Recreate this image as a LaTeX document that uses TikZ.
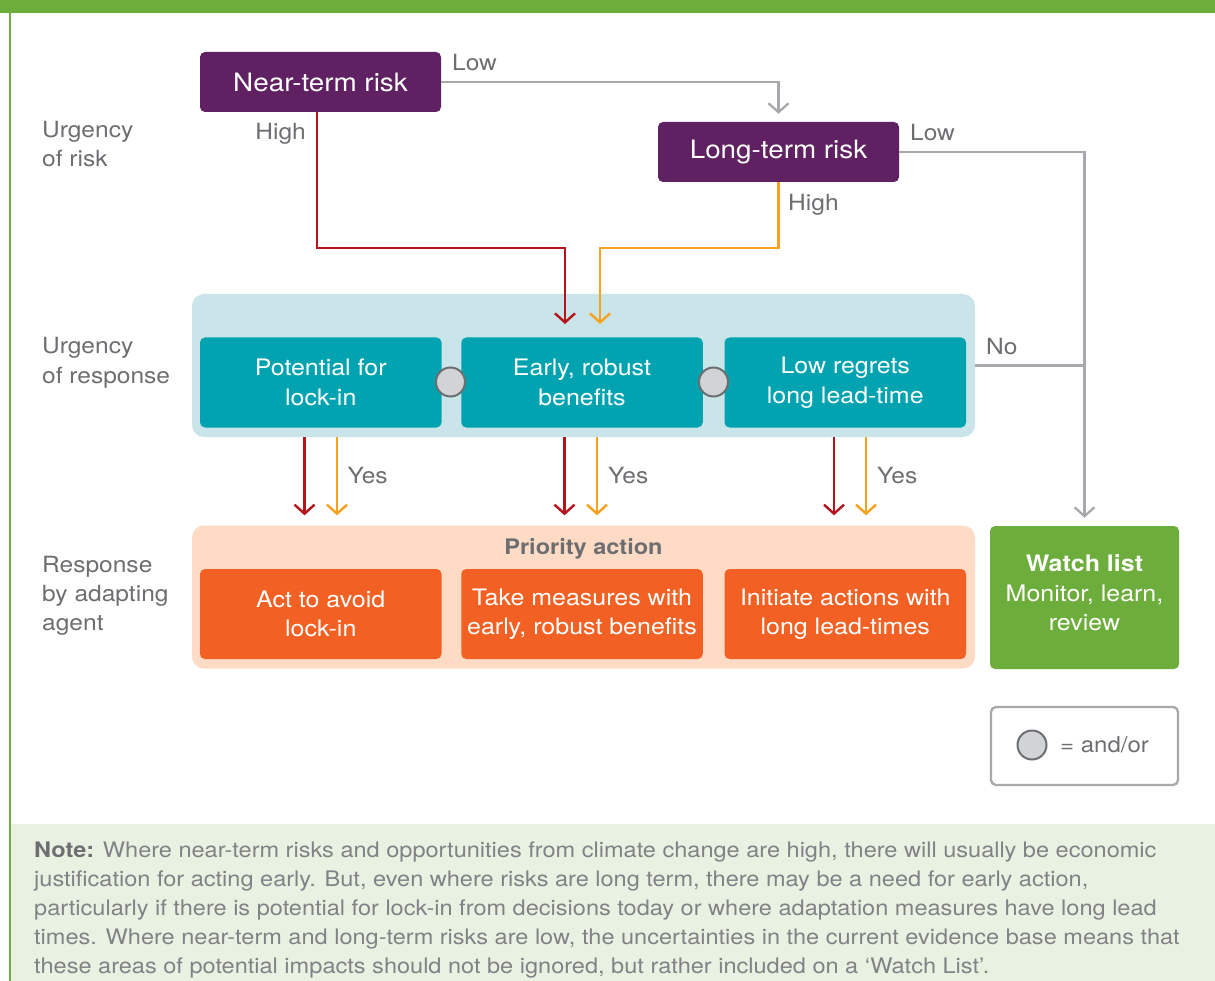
\documentclass[tikz,border=0pt]{standalone}
\usepackage{fontspec}
\setmainfont{TeX Gyre Heros}[FakeStretch=1.1]
\usetikzlibrary{arrows.meta}
\definecolor{cPurple}{HTML}{5F2162}
\definecolor{cTeal}{HTML}{00A3AF}
\definecolor{cLBlue}{HTML}{CAE5EA}
\definecolor{cPeach}{HTML}{FEDBC5}
\definecolor{cOrange}{HTML}{F26123}
\definecolor{cGreen}{HTML}{6DAD3B}
\definecolor{cRed}{HTML}{B5141D}
\definecolor{cAmber}{HTML}{F8A11D}
\definecolor{cLine}{HTML}{A7A9AC}
\definecolor{cText}{HTML}{6D6E71}
\definecolor{cNoteTxt}{HTML}{808285}
\definecolor{cNoteBg}{HTML}{E9F1E2}
\definecolor{cCircle}{HTML}{D1D3D4}
\begin{document}
\begin{tikzpicture}[x=1pt,y=-1pt,
  riskbox/.style={fill=cPurple, rounded corners=5pt, minimum width=241pt, minimum height=60pt, inner sep=0pt, text=white, font=\fontsize{25.3}{30}\selectfont},
  respbox/.style={fill=cTeal, rounded corners=5pt, minimum width=241.5pt, minimum height=90pt, inner sep=0pt, text=white, align=center, font=\fontsize{22.7}{29.5}\selectfont},
  actbox/.style={fill=cOrange, rounded corners=5pt, minimum width=241.5pt, minimum height=90pt, inner sep=0pt, text=white, align=center, font=\fontsize{22.7}{29}\selectfont},
  panel/.style={rounded corners=12pt, minimum width=783pt, minimum height=143pt, inner sep=0pt},
  andor/.style={circle, fill=cCircle, draw=cText, line width=2pt, minimum size=29pt, inner sep=0pt},
  lbl/.style={text=cText, inner sep=0pt, anchor=base west, font=\fontsize{22.3}{27}\selectfont},
  notetxt/.style={text=cNoteTxt, inner sep=0pt, anchor=base west, font=\fontsize{21.4}{29}\selectfont},
  grline/.style={draw=cLine, line width=2.3pt},
  redline/.style={draw=cRed, line width=2.4pt},
  ambline/.style={draw=cAmber, line width=2.4pt},
  arr/.style={-{Straight Barb[length=9pt,width=20pt]}}
]
\useasboundingbox (0,0) rectangle (1215,981);
\fill[white] (0,0) rectangle (1215,981);
% frame
\fill[cGreen] (0,0) rectangle (1215,13.5);
\fill[cNoteBg] (11,824) rectangle (1215,981);
\draw[cGreen, line width=1.5pt] (10,13) -- (10,981);

% panels
\node[panel, fill=cLBlue] (respanel) at (583.5,365.5) {};
\node[panel, fill=cPeach] (actpanel) at (583.5,597) {};

% risk boxes
\node[riskbox] (near) at (320.5,82) {Near-term risk};
\node[riskbox] (long) at (778.5,152) {Long-term risk};

% response boxes
\node[respbox] (r1) at (320.75,382.5) {Potential for\\lock-in};
\node[respbox] (r2) at (582,382.5) {Early, robust\\benefits};
\node[respbox] (r3) at (845.25,382.5) {Low regrets\\long lead-time};
\node[andor] (c1) at (450.5,382) {};
\node[andor] (c2) at (713.5,382) {};

% action boxes
\node[text=cText, inner sep=0pt, anchor=base, font=\bfseries\fontsize{21.4}{26}\selectfont] (prio) at (583.5,554) {Priority action};
\node[actbox] (a1) at (320.75,614) {Act to avoid\\lock-in};
\node[actbox] (a2) at (582,614) {Take measures with\\early, robust benefits};
\node[actbox] (a3) at (845.25,614) {Initiate actions with\\long lead-times};

% watch list
\node[fill=cGreen, rounded corners=5pt, minimum width=189pt, minimum height=143pt, inner sep=0pt] (watch) at (1084.5,597.5) {};
\node[text=white, align=center, inner sep=0pt, font=\fontsize{22.7}{29.5}\selectfont] (watchtxt) at ([yshift=4.5pt]watch.center) {\textbf{Watch list}\\Monitor, learn,\\review};

% legend
\node[fill=white, draw=cLine, line width=2.3pt, rounded corners=5pt, minimum width=187pt, minimum height=78pt, inner sep=0pt] (legend) at (1084.5,746) {};
\node[andor] (lc) at (1032,745) {};
\node[text=cText, inner sep=0pt, anchor=base west, font=\fontsize{21.8}{26}\selectfont] (legtxt) at (1060,752) {= and/or};

% side labels
\node[lbl] (s1a) at (42,138) {Urgency};
\node[lbl] (s1b) at (42,167) {of risk};
\node[lbl] (s2a) at (42,354) {Urgency};
\node[lbl] (s2b) at (42,383) {of response};
\node[lbl] (s3a) at (42,572) {Response};
\node[lbl] (s3b) at (42,601) {by adapting};
\node[lbl] (s3c) at (42,630) {agent};

% connector labels
\node[lbl] (lowA) at (452,71) {Low};
\node[lbl, anchor=base east] (highA) at (306,140) {High};
\node[lbl] (lowB) at (910,141) {Low};
\node[lbl] (highB) at (788,211) {High};
\node[lbl] (no) at (986,355) {No};
\node[lbl] (yes1) at (347.5,483) {Yes};
\node[lbl] (yes2) at (608,483) {Yes};
\node[lbl] (yes3) at (877,483) {Yes};

% connectors
\coordinate (tipR) at (565,324);
\coordinate (tipO) at (600,324);
\draw[redline, arr] ([xshift=-3.5pt]near.south) |- (565,248) -- (tipR);
\draw[ambline, arr] (long.south) |- (600,248) -- (tipO);
\draw[grline, arr, shorten >=8pt] (near.east) -| (long.north);
\draw[grline, arr, shorten >=8pt] (long.east) -| (watch.north);
\draw[grline] (respanel.east) -- (respanel.east -| watch.north);

\draw[redline, arr, shorten >=10pt] ([xshift=-279pt]respanel.south) -- ([xshift=-279pt]actpanel.north);
\draw[ambline, arr, shorten >=10pt] ([xshift=-246.5pt]respanel.south) -- ([xshift=-246.5pt]actpanel.north);
\draw[redline, arr, shorten >=10pt] ([xshift=-19pt]respanel.south) -- ([xshift=-19pt]actpanel.north);
\draw[ambline, arr, shorten >=10pt] ([xshift=13.5pt]respanel.south) -- ([xshift=13.5pt]actpanel.north);
\draw[redline, arr, shorten >=10pt] ([xshift=250.5pt]respanel.south) -- ([xshift=250.5pt]actpanel.north);
\draw[ambline, arr, shorten >=10pt] ([xshift=282.5pt]respanel.south) -- ([xshift=282.5pt]actpanel.north);

% note
\node[notetxt] (n1) at (34,857) {\textcolor{cText}{\bfseries Note:} Where near-term risks and opportunities from climate change are high, there will usually be economic};
\node[notetxt] (n2) at (34,886) {justification for acting early. But, even where risks are long term, there may be a need for early action,};
\node[notetxt] (n3) at (34,915) {particularly if there is potential for lock-in from decisions today or where adaptation measures have long lead};
\node[notetxt] (n4) at (34,944) {times. Where near-term and long-term risks are low, the uncertainties in the current evidence base means that};
\node[notetxt] (n5) at (34,973) {these areas of potential impacts should not be ignored, but rather included on a ‘Watch List’.};
\end{tikzpicture}
\end{document}
